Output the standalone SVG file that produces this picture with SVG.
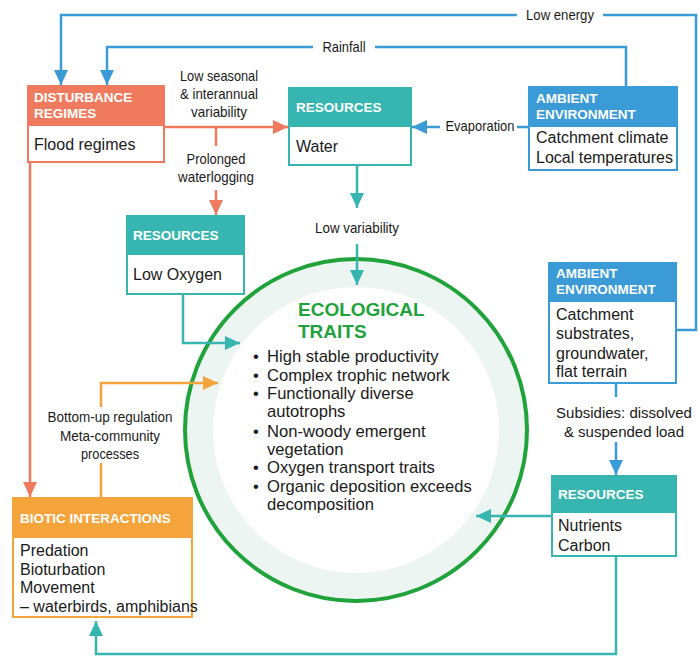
<svg xmlns="http://www.w3.org/2000/svg" width="699" height="656" viewBox="0 0 699 656">
<defs>
<style>
.hd{font-family:"Liberation Sans",Arial,sans-serif;font-weight:bold;font-size:13.5px;fill:#fff}
.bd{font-family:"Liberation Sans",Arial,sans-serif;font-size:16px;fill:#1a1a1a}
.lb{font-family:"Liberation Sans",Arial,sans-serif;font-size:15px;fill:#1a1a1a}
.tr{font-family:"Liberation Sans",Arial,sans-serif;font-size:16.6px;fill:#1a1a1a}
.c{fill:none;stroke-width:2.5}
.sal{stroke:#EF7A5E}.tea{stroke:#37B6B1}.blu{stroke:#3A9BD6}.ora{stroke:#F5A43B}
</style>
<marker id="aS" markerUnits="userSpaceOnUse" markerWidth="16" markerHeight="14" refX="15" refY="7" orient="auto"><path d="M0,0 L15,7 L0,14 z" fill="#EF7A5E"/></marker>
<marker id="aT" markerUnits="userSpaceOnUse" markerWidth="16" markerHeight="14" refX="15" refY="7" orient="auto"><path d="M0,0 L15,7 L0,14 z" fill="#37B6B1"/></marker>
<marker id="aB" markerUnits="userSpaceOnUse" markerWidth="16" markerHeight="14" refX="15" refY="7" orient="auto"><path d="M0,0 L15,7 L0,14 z" fill="#3A9BD6"/></marker>
<marker id="aO" markerUnits="userSpaceOnUse" markerWidth="16" markerHeight="14" refX="15" refY="7" orient="auto"><path d="M0,0 L15,7 L0,14 z" fill="#F5A43B"/></marker>
</defs>
<rect width="699" height="656" fill="#fff"/>

<g id="traits">
<circle cx="356" cy="430" r="157" fill="none" stroke="#EDF5F2" stroke-width="28"/>
<circle cx="356" cy="430" r="171" fill="none" stroke="#1FA33A" stroke-width="4"/>
<text x="298" y="316" font-family="Liberation Sans,Arial,sans-serif" font-weight="bold" font-size="19" fill="#1FA33A">ECOLOGICAL</text>
<text x="298" y="338" font-family="Liberation Sans,Arial,sans-serif" font-weight="bold" font-size="19" fill="#1FA33A">TRAITS</text>
<g class="tr">
<text x="253" y="362">•</text><text x="267" y="362">High stable productivity</text>
<text x="253" y="381">•</text><text x="267" y="381">Complex trophic network</text>
<text x="253" y="399">•</text><text x="267" y="399">Functionally diverse</text>
<text x="267" y="417">autotrophs</text>
<text x="253" y="437">•</text><text x="267" y="437">Non-woody emergent</text>
<text x="267" y="455">vegetation</text>
<text x="253" y="473">•</text><text x="267" y="473">Oxygen transport traits</text>
<text x="253" y="492">•</text><text x="267" y="492">Organic deposition exceeds</text>
<text x="267" y="510">decomposition</text>
</g>
</g>

<g id="connectors">
<path class="c blu" d="M677,330 H696 V15 H603"/>
<path class="c blu" d="M517,15 H61 V85" marker-end="url(#aB)"/>
<text class="lb" x="560" y="20" text-anchor="middle" textLength="68" lengthAdjust="spacingAndGlyphs">Low energy</text>
<path class="c blu" d="M626,86 V47 H375"/>
<path class="c blu" d="M313,47 H107 V85" marker-end="url(#aB)"/>
<text class="lb" x="344" y="52" text-anchor="middle" textLength="43" lengthAdjust="spacingAndGlyphs">Rainfall</text>
<path class="c blu" d="M528,127 H517"/>
<path class="c blu" d="M440,127 H412" marker-end="url(#aB)"/>
<text class="lb" x="480" y="131" text-anchor="middle" textLength="69" lengthAdjust="spacingAndGlyphs">Evaporation</text>
<path class="c sal" d="M165,127 H288" marker-end="url(#aS)"/>
<text class="lb" x="219" y="81" text-anchor="middle" textLength="78" lengthAdjust="spacingAndGlyphs">Low seasonal</text>
<text class="lb" x="219" y="99" text-anchor="middle" textLength="78" lengthAdjust="spacingAndGlyphs">&amp; interannual</text>
<text class="lb" x="219" y="117" text-anchor="middle" textLength="56" lengthAdjust="spacingAndGlyphs">variability</text>
<path class="c sal" d="M216,127 V146"/>
<path class="c sal" d="M216,190 V215" marker-end="url(#aS)"/>
<text class="lb" x="216" y="164" text-anchor="middle" textLength="59" lengthAdjust="spacingAndGlyphs">Prolonged</text>
<text class="lb" x="216" y="182" text-anchor="middle" textLength="76" lengthAdjust="spacingAndGlyphs">waterlogging</text>
<path class="c tea" d="M357,166 V208" marker-end="url(#aT)"/>
<text class="lb" x="357" y="233" text-anchor="middle" textLength="84" lengthAdjust="spacingAndGlyphs">Low variability</text>
<path class="c tea" d="M357,244 V285" marker-end="url(#aT)"/>
<path class="c tea" d="M183,295 V343 H240" marker-end="url(#aT)"/>
<path class="c sal" d="M30,163 V497" marker-end="url(#aS)"/>
<path class="c ora" d="M101,497 V463"/>
<path class="c ora" d="M101,407 V383 H218" marker-end="url(#aO)"/>
<text class="lb" x="110" y="422" text-anchor="middle" textLength="125" lengthAdjust="spacingAndGlyphs">Bottom-up regulation</text>
<text class="lb" x="110" y="441" text-anchor="middle" textLength="100" lengthAdjust="spacingAndGlyphs">Meta-community</text>
<text class="lb" x="110" y="459" text-anchor="middle" textLength="58" lengthAdjust="spacingAndGlyphs">processes</text>
<path class="c blu" d="M616,384 V397"/>
<path class="c blu" d="M616,442 V475" marker-end="url(#aB)"/>
<text class="lb" x="624" y="418" font-size="13.2" text-anchor="middle">Subsidies: dissolved</text>
<text class="lb" x="624" y="437" font-size="13.2" text-anchor="middle">&amp; suspended load</text>
<path class="c tea" d="M551,516 H476" marker-end="url(#aT)"/>
<path class="c tea" d="M616,557 V654 H96 V621" marker-end="url(#aT)"/>
</g>

<g id="disturbance">
<rect x="28" y="86" width="136" height="76" fill="#fff" stroke="#EF7A5E" stroke-width="2"/>
<rect x="27" y="85" width="138" height="41" fill="#EF7A5E"/>
<text class="hd" x="34" y="102">DISTURBANCE</text>
<text class="hd" x="34" y="118">REGIMES</text>
<text class="bd" x="34" y="150">Flood regimes</text>
</g>

<g id="water">
<rect x="289" y="88" width="122" height="77" fill="#fff" stroke="#37B6B1" stroke-width="2"/>
<rect x="288" y="87" width="124" height="40" fill="#37B6B1"/>
<text class="hd" x="296" y="112">RESOURCES</text>
<text class="bd" x="296" y="152">Water</text>
</g>

<g id="ambient1">
<rect x="529" y="87" width="148" height="83" fill="#fff" stroke="#3A9BD6" stroke-width="2"/>
<rect x="528" y="86" width="150" height="41" fill="#3A9BD6"/>
<text class="hd" x="536" y="103">AMBIENT</text>
<text class="hd" x="536" y="119">ENVIRONMENT</text>
<text class="bd" x="536" y="143">Catchment climate</text>
<text class="bd" x="536" y="163">Local temperatures</text>
</g>

<g id="lowoxygen">
<rect x="127" y="216" width="117" height="78" fill="#fff" stroke="#37B6B1" stroke-width="2"/>
<rect x="126" y="215" width="119" height="40" fill="#37B6B1"/>
<text class="hd" x="133" y="240">RESOURCES</text>
<text class="bd" x="133" y="280">Low Oxygen</text>
</g>

<g id="ambient2">
<rect x="549" y="263" width="127" height="120" fill="#fff" stroke="#3A9BD6" stroke-width="2"/>
<rect x="548" y="262" width="129" height="40" fill="#3A9BD6"/>
<text class="hd" x="556" y="278">AMBIENT</text>
<text class="hd" x="556" y="294">ENVIRONMENT</text>
<text class="bd" x="556" y="320">Catchment</text>
<text class="bd" x="556" y="339">substrates,</text>
<text class="bd" x="556" y="359">groundwater,</text>
<text class="bd" x="556" y="377">flat terrain</text>
</g>

<g id="nutrients">
<rect x="552" y="476" width="124" height="80" fill="#fff" stroke="#37B6B1" stroke-width="2"/>
<rect x="551" y="475" width="126" height="38" fill="#37B6B1"/>
<text class="hd" x="558" y="499">RESOURCES</text>
<text class="bd" x="558" y="531">Nutrients</text>
<text class="bd" x="558" y="551">Carbon</text>
</g>

<g id="biotic">
<rect x="13" y="498" width="179" height="119" fill="#fff" stroke="#F5A43B" stroke-width="2"/>
<rect x="12" y="497" width="181" height="41" fill="#F5A43B"/>
<text class="hd" x="20" y="523">BIOTIC INTERACTIONS</text>
<text class="bd" x="20" y="556">Predation</text>
<text class="bd" x="20" y="575">Bioturbation</text>
<text class="bd" x="20" y="593">Movement</text>
<text class="bd" x="20" y="612" font-size="14.5">– waterbirds, amphibians</text>
</g>
</svg>
